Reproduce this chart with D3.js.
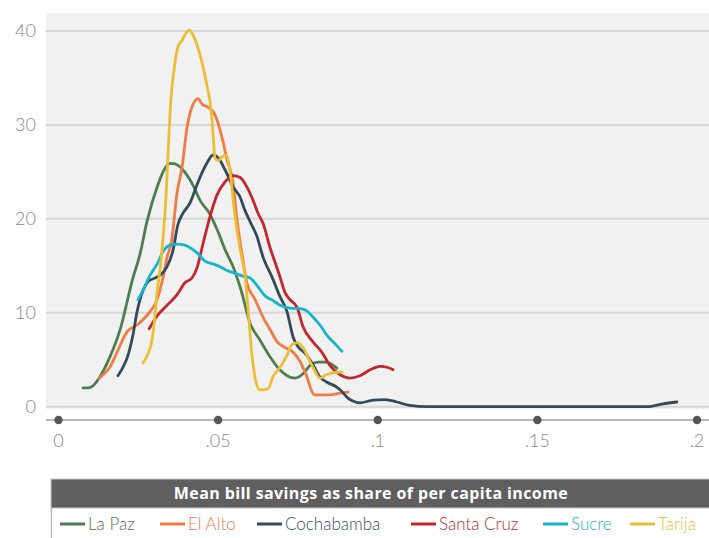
<!DOCTYPE html>
<html><head><meta charset="utf-8">
<script src="https://cdn.jsdelivr.net/npm/d3@7"></script>
<style>body{margin:0;background:#fff;}svg{display:block;}</style>
</head><body><svg id="c" width="709" height="538"></svg>
<script>
const cities = ["La Paz","El Alto","Cochabamba","Santa Cruz","Sucre","Tarija"];
const colors = ["#4f7d4f","#f07c45","#344a5a","#c1272d","#17b4cb","#ebbe37"];
const xTicks = [0,0.05,0.1,0.15,0.2];
const xTickLabels = ["0",".05",".1",".15",".2"];
const yTicks = [0,10,20,30,40];
const axisTitle = "Mean bill savings as share of per capita income";

const laPaz = [[.0077,2.0],[.0092,2.0],[.0105,2.15],[.013,3.2],[.0161,5.3],[.0193,8.2],[.0233,13.7],[.0255,16.2],[.0277,19.7],[.0309,23.4],[.0334,25.4],[.0349,25.9],[.0365,25.85],[.039,25.2],[.0421,23.6],[.0443,22.0],[.0474,20.5],[.05,18.6],[.0522,16.7],[.0547,14.9],[.0572,12.4],[.06,8.9],[.0631,7.1],[.0663,5.3],[.0694,3.9],[.0716,3.3],[.0741,3.05],[.0766,3.5],[.0788,4.4],[.0813,4.75],[.0838,4.75],[.0872,4.1]];
const elAlto = [[.0127,3.0],[.0146,3.6],[.0161,4.2],[.0186,6.0],[.0215,8.0],[.0246,8.7],[.0286,10.1],[.0309,11.4],[.0327,13.7],[.034,15.9],[.0355,17.8],[.0371,22.7],[.0387,25.5],[.0403,29.8],[.0418,31.9],[.0437,32.8],[.045,32.2],[.0468,31.9],[.049,31.1],[.0512,28.7],[.0528,26.3],[.0547,23.8],[.0559,19.9],[.0575,16.2],[.059,13.2],[.0616,11.4],[.0641,9.5],[.0663,8.2],[.0685,6.9],[.071,6.3],[.0735,5.8],[.0757,4.8],[.0772,3.7],[.0803,1.25],[.0825,1.25],[.085,1.25],[.0882,1.45],[.0907,1.55]];
const cochabamba = [[.0186,3.3],[.0202,4.2],[.0218,5.5],[.0233,7.6],[.0246,10.1],[.0265,12.4],[.028,13.3],[.0302,13.7],[.0318,14.0],[.034,14.9],[.0359,16.7],[.0374,19.4],[.039,20.6],[.0412,21.7],[.0428,23.1],[.0443,24.4],[.0465,25.95],[.0484,26.8],[.05,26.5],[.0522,25.2],[.0547,23.4],[.0569,22.3],[.0584,20.9],[.06,19.7],[.0622,18.1],[.0641,15.9],[.0669,13.8],[.0694,11.7],[.0716,10.1],[.0735,7.4],[.0751,6.35],[.0772,5.7],[.0794,4.65],[.0819,3.15],[.0841,2.6],[.0866,2.2],[.0882,1.8],[.0904,1.0],[.0922,0.6],[.0944,0.4],[.0985,0.7],[.1023,0.75],[.106,0.5],[.11,0.13],[.1154,0],[.1226,0],[.1383,0],[.154,0],[.1696,0],[.1843,0],[.1893,0.3],[.1937,0.5]];
const santaCruz = [[.0284,8.3],[.0296,9.0],[.0312,9.8],[.034,10.8],[.0371,11.9],[.0396,13.2],[.0418,13.7],[.0434,14.8],[.0453,17.4],[.0475,20.3],[.0496,22.5],[.0521,23.9],[.0547,24.6],[.0569,24.4],[.059,23.4],[.0609,22.0],[.0625,20.6],[.0641,19.5],[.0663,16.9],[.0678,15.4],[.0694,13.8],[.0709,12.2],[.0725,11.4],[.0747,10.6],[.0766,8.5],[.0797,6.9],[.0825,5.8],[.085,4.4],[.0882,3.4],[.0913,3.05],[.0944,3.3],[.0975,3.9],[.1007,4.3],[.1029,4.2],[.1048,3.95]];
const sucre = [[.0249,11.4],[.0265,12.4],[.0287,14.0],[.0309,15.2],[.0327,16.5],[.0349,17.2],[.0371,17.3],[.0396,17.2],[.0418,16.8],[.0437,16.3],[.0459,15.5],[.0484,15.2],[.0506,14.9],[.0528,14.5],[.0553,14.2],[.0578,13.9],[.06,13.7],[.0622,12.9],[.0647,11.8],[.0672,11.3],[.0694,10.8],[.0725,10.5],[.0757,10.45],[.0778,10.2],[.0797,9.55],[.0819,8.7],[.0841,7.6],[.0866,6.7],[.0888,5.9]];
const tarija = [[.0265,4.65],[.028,5.6],[.0293,7.1],[.0302,9.6],[.0309,12.2],[.0318,14.6],[.0327,17.8],[.0337,22.5],[.0343,26.8],[.0352,32.7],[.0362,35.9],[.0374,38.3],[.0387,39.0],[.04,39.8],[.0409,40.1],[.0421,39.6],[.0434,38.5],[.045,36.6],[.0465,34.2],[.0478,31.6],[.0484,29.1],[.049,26.5],[.05,26.2],[.0512,26.6],[.0525,26.8],[.0537,25.2],[.0547,22.0],[.0559,18.8],[.0572,16.2],[.0584,14.0],[.0594,10.3],[.0606,5.5],[.0619,2.6],[.0631,1.8],[.0656,1.9],[.0672,3.2],[.0694,4.2],[.0716,5.5],[.0731,6.6],[.0747,6.8],[.0766,6.3],[.0782,5.2],[.0797,4.2],[.0819,3.05],[.0838,3.4],[.086,3.6],[.0888,3.7]];
const seriesData = [laPaz, elAlto, cochabamba, santaCruz, sucre, tarija];

const svg = d3.select("#c");
const x = d3.scaleLinear().domain([0,0.2]).range([58.5,697]);
const y = d3.scaleLinear().domain([0,40]).range([406.7,31]);
const font = "Lato, 'Liberation Sans', sans-serif";

// plot background
svg.append("rect").attr("x",46).attr("y",13).attr("width",663).attr("height",396).attr("fill","#f1f1f1");

// gridlines
svg.append("g").selectAll("line").data(yTicks).join("line")
  .attr("x1",46).attr("x2",709).attr("y1",d=>y(d)).attr("y2",d=>y(d))
  .attr("stroke","#d6d6d6").attr("stroke-width",2);

// y labels
svg.append("g").selectAll("text").data(yTicks).join("text")
  .attr("x",36).attr("y",d=>y(d)).attr("dy","0.36em").attr("text-anchor","end")
  .attr("font-family",font).attr("font-weight",300).attr("font-size",18).attr("fill","#8a8a8a")
  .text(d=>d);

// x axis line + dots
svg.append("line").attr("x1",46).attr("x2",709).attr("y1",420).attr("y2",420)
  .attr("stroke","#b8b8b8").attr("stroke-width",2);
svg.append("g").selectAll("circle").data(xTicks).join("circle")
  .attr("cx",d=>x(d)).attr("cy",420).attr("r",4.2).attr("fill","#555");
svg.append("g").selectAll("text").data(xTicks).join("text")
  .attr("x",d=>x(d)).attr("y",447).attr("text-anchor","middle")
  .attr("font-family",font).attr("font-weight",300).attr("font-size",18).attr("fill","#8a8a8a")
  .text((d,i)=>xTickLabels[i]);

// lines
const line = d3.line().x(d=>x(d[0])).y(d=>y(d[1])).curve(d3.curveMonotoneX);
svg.append("g").selectAll("path").data(seriesData).join("path")
  .attr("d",line).attr("fill","none").attr("stroke",(d,i)=>colors[i])
  .attr("stroke-width",2.8).attr("stroke-linejoin","round").attr("stroke-linecap","round");

// legend
svg.append("rect").attr("x",51).attr("y",479).attr("width",670).attr("height",29)
  .attr("fill","#5f5f5f").attr("stroke","#c8c8c8").attr("stroke-width",1);
svg.append("text").attr("x",371).attr("y",499).attr("text-anchor","middle")
  .attr("font-family","'Open Sans', 'Liberation Sans', sans-serif").attr("font-weight",700)
  .attr("font-size",16).attr("letter-spacing",0.4).attr("fill","#fff").text(axisTitle);
svg.append("line").attr("x1",51.5).attr("x2",51.5).attr("y1",508).attr("y2",538)
  .attr("stroke","#bdbdbd").attr("stroke-width",1.5);
const legX = [60,160,257,411,543,630];
const lg = svg.append("g").selectAll("g").data(cities).join("g")
  .attr("transform",(d,i)=>`translate(${legX[i]},524)`);
lg.append("line").attr("x1",0).attr("x2",25).attr("y1",0).attr("y2",0)
  .attr("stroke",(d,i)=>colors[i]).attr("stroke-width",3);
lg.append("text").attr("x",28).attr("y",0).attr("dy","0.36em")
  .attr("font-family",font).attr("font-weight",300).attr("font-size",17).attr("fill",(d,i)=>colors[i]).text(d=>d);
</script></body></html>
